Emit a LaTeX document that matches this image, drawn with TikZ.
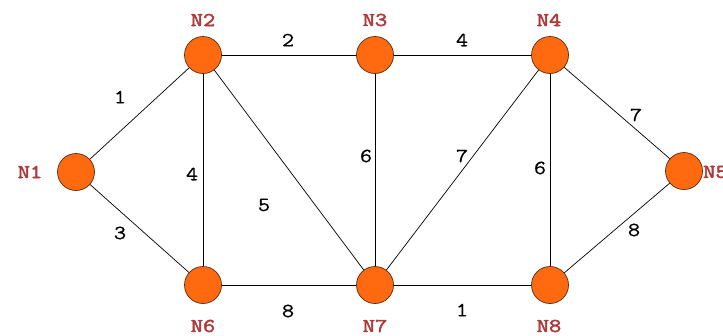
\documentclass[tikz,border=0pt]{standalone}
\usepackage{fontspec}
\newfontfamily\labfont[FakeBold=2.5,FakeStretch=1.22]{Latin Modern Mono}
\newfontfamily\numfont[FakeStretch=1.18,FakeBold=0.6]{Latin Modern Mono}
\definecolor{nodeorange}{HTML}{FF6A10}
\definecolor{nodeedge}{HTML}{5A2A10}
\definecolor{labred}{HTML}{B03A3A}
\tikzset{
  vtx/.style={circle,fill=nodeorange,draw=nodeedge,line width=0.7pt,minimum size=37pt,inner sep=0pt},
  vlab/.style={font=\labfont\fontsize{19.5}{19.5}\selectfont,text=labred,inner sep=0pt},
  elab/.style={font=\numfont\fontsize{20}{20}\selectfont,text=black,inner sep=0pt},
  edge/.style={draw=black,line width=0.7pt}
}
\begin{document}
\begin{tikzpicture}[x=1pt,y=-1pt]
\useasboundingbox[fill=white] (0,0) rectangle (723,335);
% vertices
\node[vtx] (n1) at (76,172) {};
\node[vtx] (n2) at (203,55) {};
\node[vtx] (n3) at (375,55) {};
\node[vtx] (n4) at (550,55) {};
\node[vtx] (n5) at (684,171) {};
\node[vtx] (n6) at (203,285) {};
\node[vtx] (n7) at (375,285) {};
\node[vtx] (n8) at (550,285) {};
% edges
\draw[edge] (n1) -- (n2);
\draw[edge] (n1) -- (n6);
\draw[edge] (n2) -- (n3);
\draw[edge] (n3) -- (n4);
\draw[edge] (n2) -- (n6);
\draw[edge] (n2) -- (n7);
\draw[edge] (n3) -- (n7);
\draw[edge] (n4) -- (n7);
\draw[edge] (n4) -- (n8);
\draw[edge] (n4) -- (n5);
\draw[edge] (n5) -- (n8);
\draw[edge] (n6) -- (n7);
\draw[edge] (n7) -- (n8);
% vertex labels
\node[vlab] (l1) at (30,172) {N1};
\node[vlab] (l2) at (203,20) {N2};
\node[vlab] (l3) at (375,20) {N3};
\node[vlab] (l4) at (549,20) {N4};
\node[vlab,anchor=west] (l5) at (703,172) {N5};
\node[vlab] (l6) at (203,326) {N6};
\node[vlab] (l7) at (375,326) {N7};
\node[vlab] (l8) at (549,326) {N8};
% edge labels
\node[elab] (e12) at (120,97) {1};
\node[elab] (e16) at (120,233) {3};
\node[elab] (e23) at (288,40) {2};
\node[elab] (e34) at (462,40) {4};
\node[elab] (e26) at (192,174) {4};
\node[elab] (e27) at (264,205) {5};
\node[elab] (e37) at (366,156) {6};
\node[elab] (e47) at (462,156) {7};
\node[elab] (e48) at (540,168) {6};
\node[elab] (e45) at (636,115) {7};
\node[elab] (e58) at (634,230) {8};
\node[elab] (e67) at (288,311) {8};
\node[elab] (e78) at (462,310) {1};
\end{tikzpicture}
\end{document}
